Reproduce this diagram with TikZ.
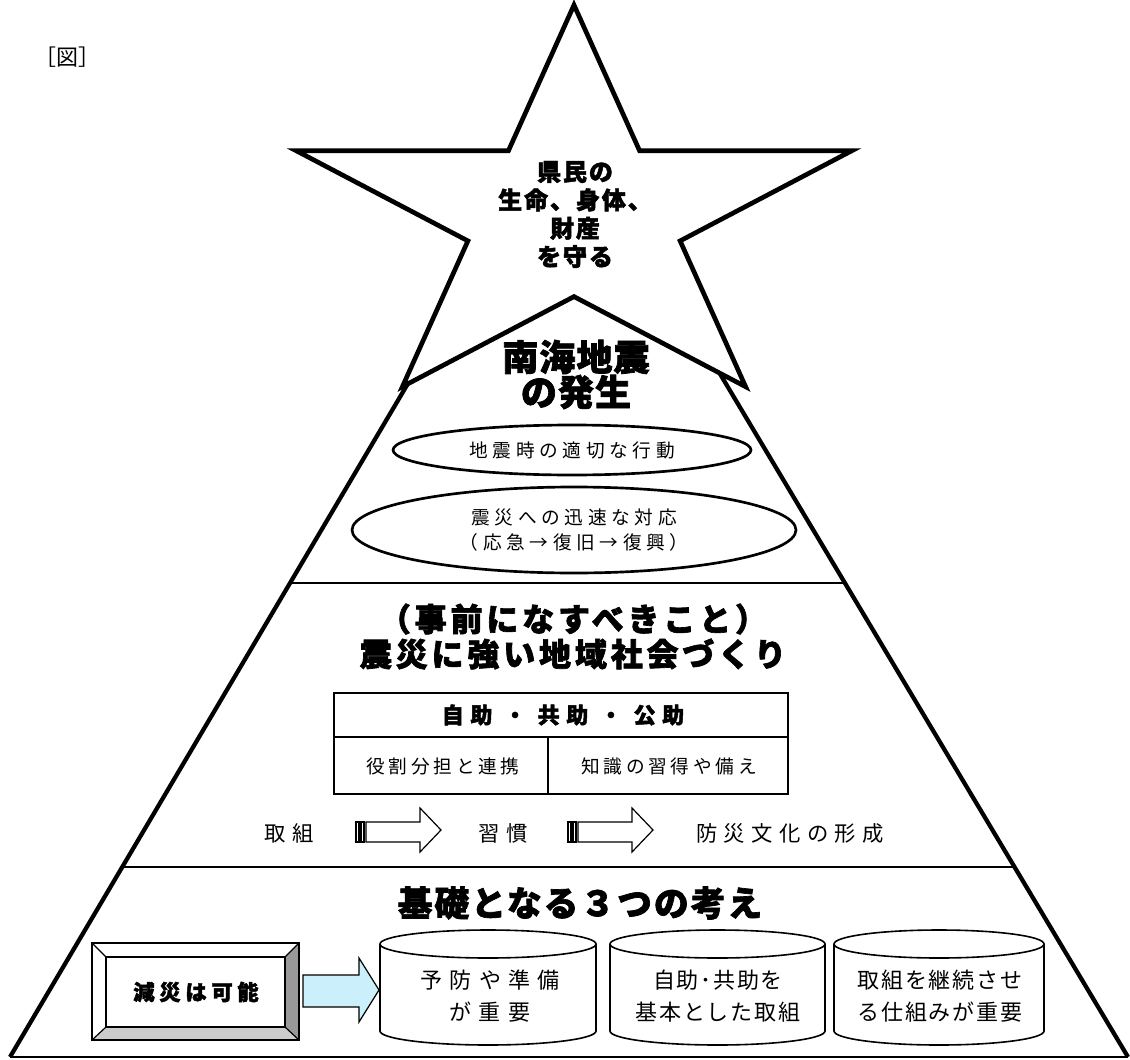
\documentclass[tikz,border=0pt]{standalone}
\usepackage{fontspec}
\newfontfamily\jp{Noto Sans CJK JP}
\usetikzlibrary{shapes.geometric,calc}
\newcommand\jpr[3]{\jp\fontsize{#1}{#2}\selectfont\addfontfeature{LetterSpace=#3}}
\newcommand\jpbb[3]{\jp\bfseries\fontsize{#1}{#2}\selectfont\addfontfeature{LetterSpace=#3,FakeBold=2}}
\begin{document}
\begin{tikzpicture}[x=0.75pt,y=-0.75pt,
  edge/.style={line width=3.2pt,line join=miter},
  divider/.style={line width=2pt},
  starst/.style={line width=3.5pt,fill=white,line join=miter,miter limit=20},
  ell/.style={draw,ellipse,line width=2pt,inner sep=0pt,align=center},
  tbl/.style={line width=1.3pt},
  cylst/.style={line width=1.2pt},
  arr/.style={line width=0.9pt,fill=white},
  txt/.style={inner sep=0pt,align=center}]
\useasboundingbox[fill=white] (0,0) rectangle (1130,1059);

% caption
\node[txt,anchor=west,font=\jpr{16.5pt}{18pt}{0}] (cap) at (34,57) {［図］};

% pyramid
\coordinate (bl) at (10,1057);
\coordinate (br) at (1128,1057);
\coordinate (apex) at (566,116);
\draw[edge] (bl) -- (apex) -- (br);
\draw[divider] (bl) -- (br);
\draw[divider] ($(bl)!0.5037!(apex)$) -- ($(br)!0.5037!(apex)$);
\draw[divider] ($(bl)!0.2019!(apex)$) -- ($(br)!0.2019!(apex)$);

% star
\draw[starst] (574,5) -- (639.6,150.8) -- (851.7,150.8) -- (680.1,240.9)
  -- (745.6,386.7) -- (574,296.6) -- (402.4,386.7) -- (467.9,240.9)
  -- (296.3,150.8) -- (508.4,150.8) -- cycle;
\node[txt,font=\jpbb{18pt}{21.25pt}{8}] (startext) at (575,214.5)
  {県民の\\生命、身体、\\財産\\を守る};

% top section
\node[txt,font=\jpbb{27pt}{26.25pt}{3}] (nankai) at (576,374.5) {南海地震\\の発生};
\node[ell,minimum width=268.5pt,minimum height=37.5pt,font=\jpr{14pt}{15pt}{25}]
  (e1) at (572,450) {地震時の適切な行動};
\node[ell,minimum width=333pt,minimum height=64.5pt,font=\jpr{14pt}{19pt}{25}]
  (e2) at (574,530) {震災への迅速な対応\\（応急→復旧→復興）};

% middle section
\node[txt,font=\jpbb{24pt}{26.25pt}{12}] (mid) at (573,636.5)
  {（事前になすべきこと）\\震災に強い地域社会づくり};
\draw[tbl] (334,693) rectangle (788,794);
\draw[tbl] (334,737) -- (788,737);
\draw[tbl] (548,737) -- (548,794);
\node[txt,font=\jpbb{16.5pt}{18pt}{30}] (th) at (563,715) {自助 ・ 共助 ・ 公助};
\node[txt,font=\jpr{14pt}{15pt}{20}] (t1) at (443,766) {役割分担と連携};
\node[txt,font=\jpr{14pt}{15pt}{20}] (t2) at (669,766) {知識の習得や備え};

\node[txt,font=\jpr{16pt}{18pt}{30}] (w1) at (289,833) {取組};
\node[txt,font=\jpr{16pt}{18pt}{30}] (w2) at (503,833) {習慣};
\node[txt,font=\jpr{16pt}{18pt}{30}] (w3) at (790,833) {防災文化の形成};

\foreach \dx in {0,212}{
  \begin{scope}[xshift=\dx*0.75pt]
  \draw[arr] (356,822) rectangle (359,842);
  \draw[arr] (361,822) rectangle (364,842);
  \draw[arr] (366,822) -- (420,822) -- (420,808) -- (441,830) -- (420,852)
    -- (420,842) -- (366,842) -- cycle;
  \end{scope}
}

% bottom section
\node[txt,font=\jpbb{26pt}{28pt}{6}] (base) at (580,903) {基礎となる３つの考え};

% bevel box
\fill[white] (92,943) -- (299,943) -- (285,957) -- (106,957) -- cycle;
\fill[white] (92,943) -- (106,957) -- (106,1027) -- (92,1040) -- cycle;
\fill[black!40] (299,943) -- (299,1040) -- (285,1027) -- (285,957) -- cycle;
\fill[black!20] (92,1040) -- (299,1040) -- (285,1027) -- (106,1027) -- cycle;
\draw[line width=0.9pt] (92,943) rectangle (299,1040);
\draw[line width=0.9pt] (106,957) rectangle (285,1027);
\draw[line width=0.9pt] (92,943) -- (106,957) (299,943) -- (285,957)
  (92,1040) -- (106,1027) (299,1040) -- (285,1027);
\node[txt,font=\jpbb{16pt}{18pt}{22}] (gen) at (196,992) {減災は可能};

% cyan arrow
\draw[line width=0.9pt,fill=cyan!20] (303,975) -- (359,975) -- (359,958) -- (379,990)
  -- (359,1022) -- (359,1007) -- (303,1007) -- cycle;

% cylinders
\draw[cylst] (380,944) -- (380,1031) arc[start angle=180,end angle=360,x radius=81pt,y radius=10.5pt] -- (596,944);
\draw[cylst] (488,944) ellipse[x radius=81pt,y radius=10.5pt];
\draw[cylst] (610,944) -- (610,1031) arc[start angle=180,end angle=360,x radius=80.625pt,y radius=10.5pt] -- (825,944);
\draw[cylst] (717.5,944) ellipse[x radius=80.625pt,y radius=10.5pt];
\draw[cylst] (834,944) -- (834,1031) arc[start angle=180,end angle=360,x radius=78.75pt,y radius=10.5pt] -- (1044,944);
\draw[cylst] (939,944) ellipse[x radius=78.75pt,y radius=10.5pt];

\node[txt,font=\jpr{16.5pt}{24pt}{32}] (c1) at (490,996) {予防や準備\\が重要};
\node[txt,font=\jpr{16.5pt}{24pt}{8}] (c2) at (718,996) {自助･共助を\\基本とした取組};
\node[txt,font=\jpr{16.5pt}{24pt}{8}] (c3) at (940,996) {取組を継続させ\\る仕組みが重要};
\end{tikzpicture}
\end{document}
